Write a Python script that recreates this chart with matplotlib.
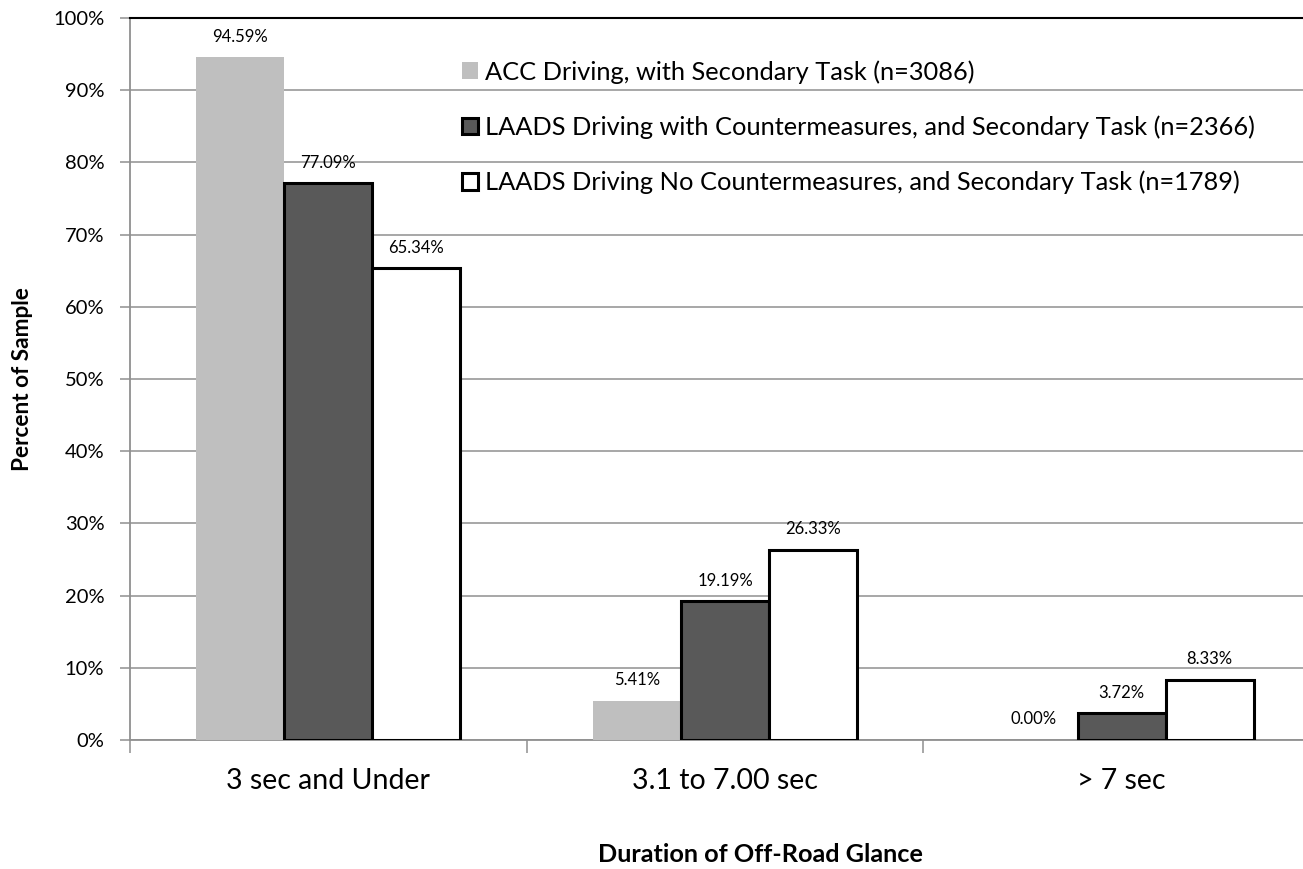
import matplotlib
matplotlib.use("Agg")
import matplotlib.pyplot as plt
import numpy as np

categories = ["3 sec and Under", "3.1 to 7.00 sec", "> 7 sec"]
series_names = [
    "ACC Driving, with Secondary Task (n=3086)",
    "LAADS Driving with Countermeasures, and Secondary Task (n=2366)",
    "LAADS Driving No Countermeasures, and Secondary Task (n=1789)",
]
acc = [94.59, 5.41, 0.00]
laads_cm = [77.09, 19.19, 3.72]
laads_nocm = [65.34, 26.33, 8.33]
yticks = [0, 10, 20, 30, 40, 50, 60, 70, 80, 90, 100]

plt.rcParams['font.family'] = ['Lato', 'DejaVu Sans']

W, H = 1303, 869
fig = plt.figure(figsize=(W / 100, H / 100), dpi=100)
left, right, top, bottom = 130, 1320, 18, 740
ax = fig.add_axes([left / W, 1 - bottom / H, (right - left) / W, (bottom - top) / H])

x = np.arange(len(categories))
bw = 0.222
styles = [
    dict(color="#bfbfbf", edgecolor="none", linewidth=0),
    dict(color="#595959", edgecolor="black", linewidth=2.2),
    dict(color="white", edgecolor="black", linewidth=2.2),
]
data = [acc, laads_cm, laads_nocm]
for i, (vals, name, st) in enumerate(zip(data, series_names, styles)):
    bars = ax.bar(x + (i - 1) * bw, vals, bw, label=name, zorder=3, **st)
    ax.bar_label(bars, labels=[f"{v:.2f}%" for v in vals], padding=9,
                 fontsize=12, color="black")

ax.set_xlim(-0.5, 2.5)
ax.set_ylim(0, 100)
ax.set_yticks(yticks)
ax.set_yticklabels([f"{t}%" for t in yticks], fontsize=14.5)
ax.grid(axis="y", color="#a0a0a0", linewidth=1.3, zorder=0)
ax.set_axisbelow(True)

ax.set_xticks(x)
ax.set_xticklabels(categories, fontsize=20.5)
ax.tick_params(axis="x", which="major", length=0, pad=20)
ax.set_xticks([-0.5, 0.5, 1.5], minor=True)
ax.tick_params(axis="x", which="minor", length=9, color="#a0a0a0", width=1.3)
ax.tick_params(axis="y", length=7, color="#a0a0a0", width=1.3, pad=11.5)

ax.spines["right"].set_visible(False)
ax.spines["top"].set_color("black")
ax.spines["top"].set_linewidth(1.5)
for s in ["left", "bottom"]:
    ax.spines[s].set_color("#909090")
    ax.spines[s].set_linewidth(1.3)

fig.text(23 / W, 1 - 379 / H, "Percent of Sample", rotation=90, ha="center",
         va="center", fontsize=16.3, fontweight="bold")
fig.text(760 / W, 1 - 862 / H, "Duration of Off-Road Glance", ha="center",
         va="baseline", fontsize=18.2, fontweight="bold")

leg = ax.legend(loc="upper left", bbox_to_anchor=(462 / W, 1 - 60 / H),
                bbox_transform=fig.transFigure, frameon=False, fontsize=18.3,
                handlelength=0.63, handleheight=0.63, handletextpad=0.28,
                labelspacing=1.25, borderaxespad=0, borderpad=0)

fig.savefig("out.png", dpi=100)
